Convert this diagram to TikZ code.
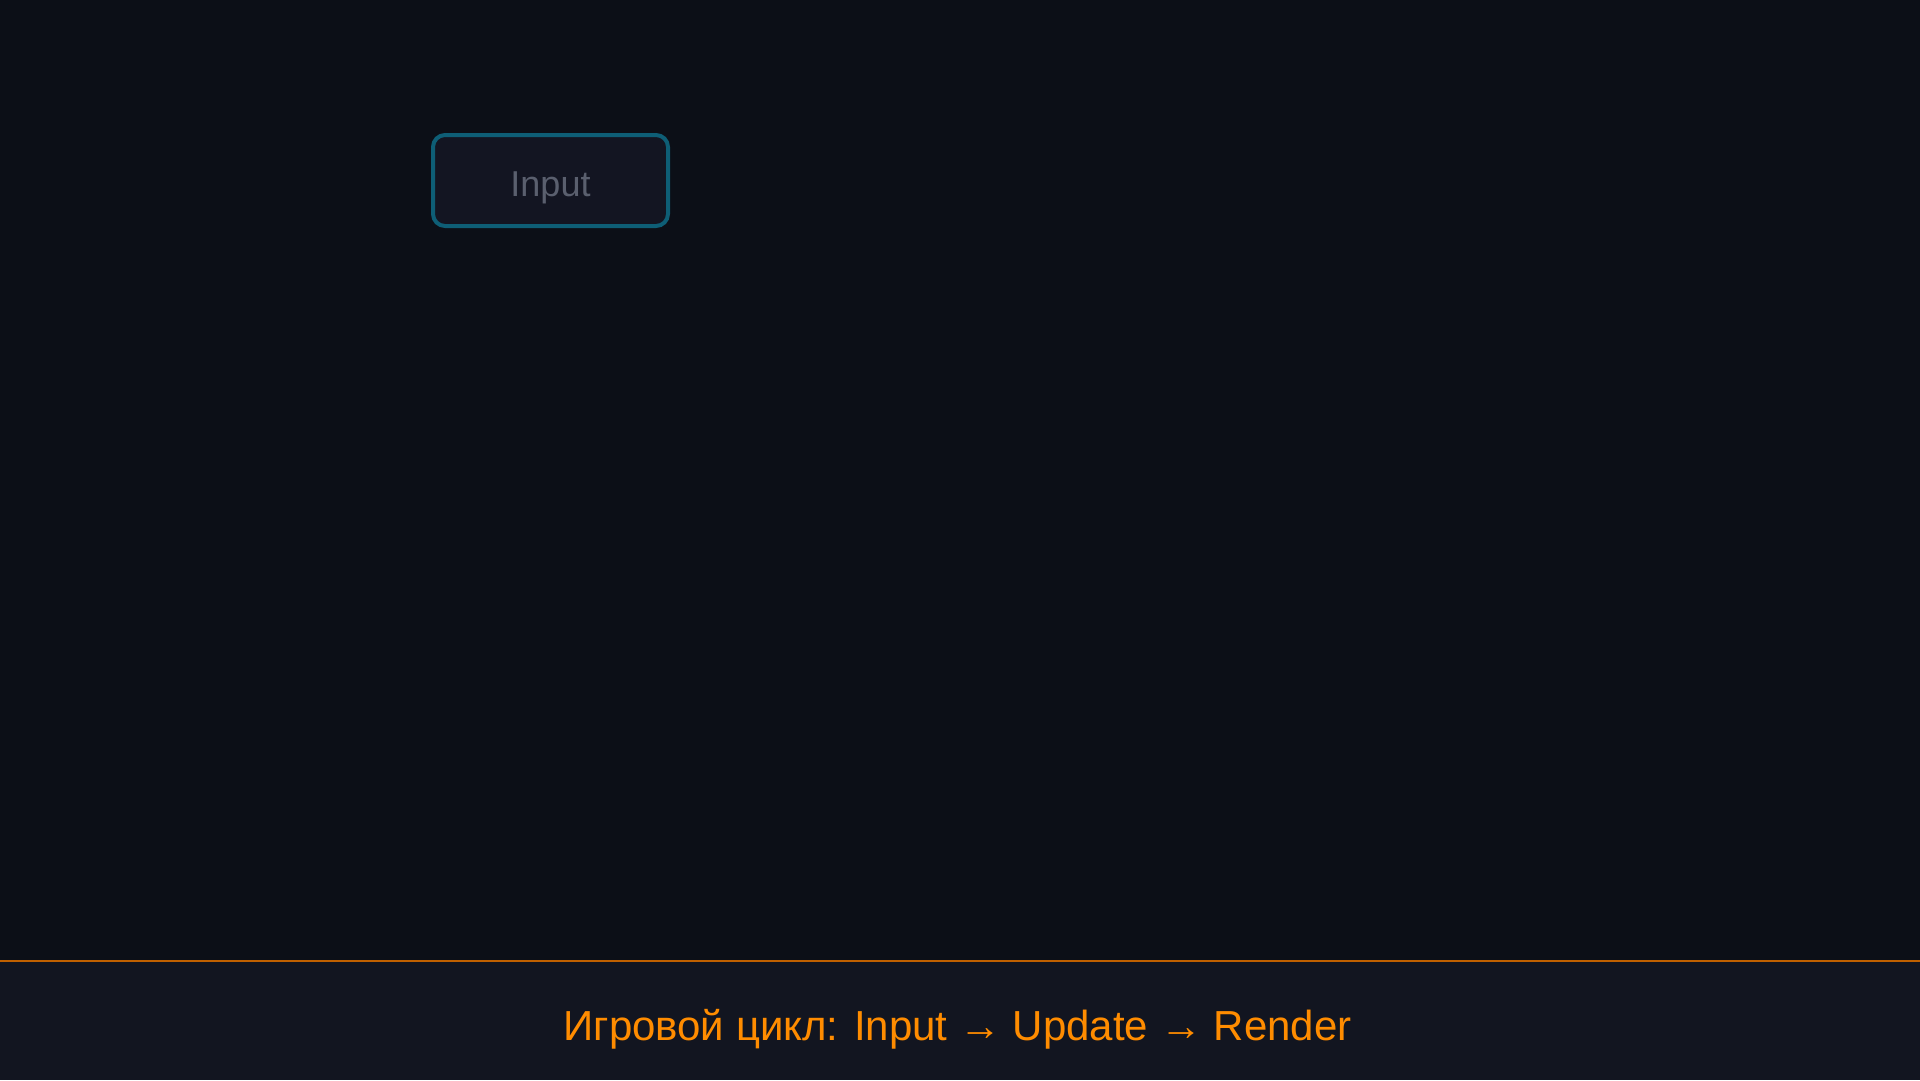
\documentclass[tikz,border=0pt]{standalone}
\usepackage{fontspec}
\setmainfont{Liberation Sans}
\definecolor{bgdark}{HTML}{0C0F17}
\definecolor{bardark}{HTML}{121520}
\definecolor{boxfill}{HTML}{131522}
\definecolor{boxline}{HTML}{0E5E76}
\definecolor{boxtext}{HTML}{5A5F6E}
\definecolor{loopline}{HTML}{C06000}
\definecolor{looptext}{HTML}{FF8C00}
\tikzset{
  stagebox/.style={draw=boxline, line width=4pt, fill=boxfill, rounded corners=12pt,
    minimum width=235pt, minimum height=91pt, inner sep=0pt, text=boxtext,
    text height=31pt, text depth=0pt, font=\fontsize{36}{42}\selectfont},
  caption/.style={text=looptext, inner sep=0pt, anchor=base,
    font=\fontsize{42}{50}\selectfont}
}

\begin{document}
\begin{tikzpicture}[x=1pt,y=-1pt]
 \useasboundingbox (0,0) rectangle (1920,1080);
  \fill[bgdark] (0,0) rectangle (1920,1080);
  \fill[bardark] (0,961) rectangle (1920,1080);
    \coordinate (barleft) at (0,961);
    \coordinate (barright) at (1920,961);
    \draw[loopline, line width=2pt] (barleft) -- (barright);
    \node[stagebox] (input) at (550.5,180.5) {Input};
    \node[caption] (loop) at (957.5,1040) {Игровой цикл: Input → Update → Render};
\end{tikzpicture}
\end{document}
